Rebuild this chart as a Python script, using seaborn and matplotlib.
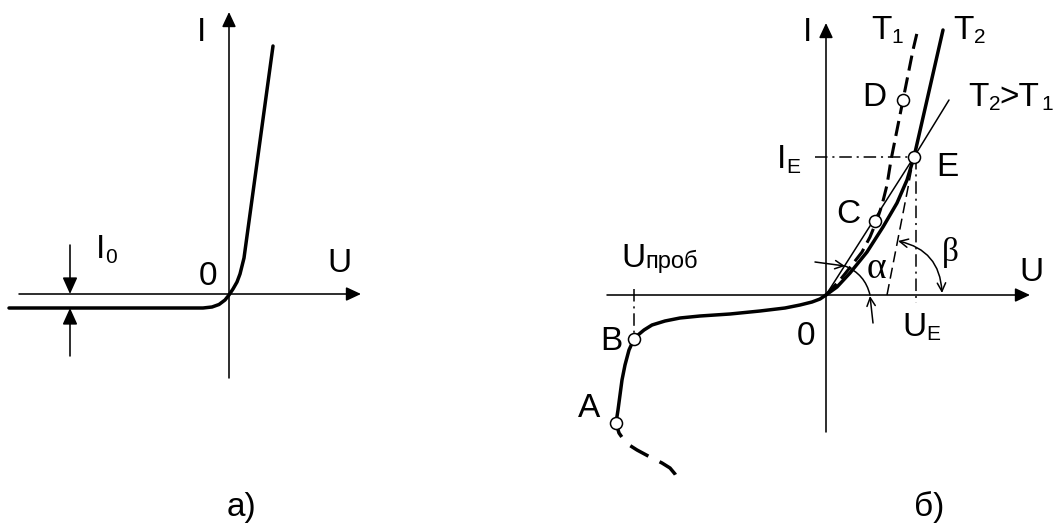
import matplotlib
matplotlib.use("Agg")
import matplotlib.pyplot as plt
import seaborn as sns
from matplotlib.patches import FancyArrowPatch

sns.set_theme(style="white")
plt.rcParams['font.family'] = ['Liberation Sans', 'DejaVu Sans']
plt.rcParams['lines.scale_dashes'] = False

W, H, DPI = 1057, 528, 100

# ---------------- panel а): ideal diode characteristic ----------------
a_u = [9, 203, 212, 219, 225, 229, 233, 237, 240, 242, 244, 273]
a_i = [308, 308, 307, 304.5, 300, 295, 289, 282, 274, 266, 258, 46]

# ---------------- panel б): real characteristic ----------------
rev_u = [826, 820, 812, 800, 785, 760, 730, 700, 680, 665, 652, 644, 638, 634]
rev_i = [295, 299, 302, 305, 308, 311, 314, 316, 318, 321, 325, 330, 335, 339]
brk_u = [634, 629, 625, 622, 620, 618, 616]
brk_i = [339, 350, 365, 380, 395, 410, 423]
tail_u = [616, 619, 626, 637, 650, 662, 670, 675, 678]
tail_i = [423, 433, 443, 450, 457, 463, 468, 474, 480]
t2_u = [826, 837, 850, 867, 883, 897, 907, 914, 943]
t2_i = [295, 287, 273, 252, 227, 203, 180, 157, 30]
t1_u = [826, 840, 852, 862, 870, 877, 882, 887, 891, 895, 899, 903, 908, 913, 917]
t1_i = [295, 280, 265, 252, 237, 220, 205, 185, 160, 140, 120, 100, 75, 50, 33]
chord_u = [826, 914, 949]
chord_i = [295, 157, 100]
tangent_u = [887, 914]
tangent_i = [295, 157]

pt_names = ["A", "B", "C", "D", "E"]
pt_u = [616, 634, 875, 903, 914]
pt_i = [423, 339, 221, 100, 157]

fig = plt.figure(figsize=(W / DPI, H / DPI), dpi=DPI)
ax = fig.add_axes([0, 0, 1, 1])

AX_LW = 1.15
THICK = 2.5
THIN = 1.1


def line(xs, ys, lw, ls='-', z=3):
    sns.lineplot(x=xs, y=ys, sort=False, estimator=None, color='black',
                 lw=lw, linestyle=ls, ax=ax, zorder=z)


def arrow(p0, p1, style='-|>', hl=9, hw=4.2, lw=AX_LW, conn=None):
    kw = dict(arrowstyle=f"{style},head_length={hl},head_width={hw}",
              mutation_scale=1, lw=lw, color='black', shrinkA=0, shrinkB=0,
              zorder=4)
    if conn:
        kw['connectionstyle'] = conn
    ax.add_patch(FancyArrowPatch(p0, p1, **kw))


# coordinate axes of both panels
arrow((19, 294), (361, 294))
arrow((229, 378), (229, 12))
arrow((607, 295), (1030, 295))
arrow((826, 432), (826, 23))

# panel а) curve and I0 markers
line(a_u, a_i, THICK)
arrow((70, 245), (70, 294), hl=10, hw=4.5)
arrow((70, 356), (70, 308), hl=10, hw=4.5)

# panel б) curves
line(rev_u, rev_i, THICK)
line(brk_u, brk_i, THICK)
line(tail_u, tail_i, THICK, ls=(4, (15, 9)))
line(t2_u, t2_i, THICK)
line(t1_u, t1_i, 2.2, ls=(0, (11, 5)))
line(chord_u, chord_i, THIN)
line(tangent_u, tangent_i, THIN, ls=(0, (8, 4)))

# construction lines (dash-dot)
dd = (0, (9, 3.5, 1.5, 3.5))
line([815, 914], [157, 157], THIN, ls=dd, z=2)
line([916, 916], [157, 303], THIN, ls=dd, z=2)
line([634, 634], [289, 333], THIN, ls=dd, z=2)

# angle marks
ax.add_patch(FancyArrowPatch((845, 266), (870, 295), arrowstyle='-',
                             connectionstyle='arc3,rad=-0.26', lw=THIN,
                             color='black', shrinkA=0, shrinkB=0))
arrow((815, 262), (845, 266), style='->', hl=6, hw=3, lw=THIN)
arrow((873, 323), (870, 296), style='->', hl=6, hw=3, lw=THIN)
arrow((898, 241), (942, 293), style='<->', hl=6, hw=3, lw=THIN,
      conn='arc3,rad=-0.38')

# characteristic points
sns.scatterplot(x=pt_u, y=pt_i, s=75, color='white', edgecolor='black',
                linewidth=1.1, zorder=6, ax=ax)

# ---------------- labels ----------------
FS = 24
SUB = 15
renderer = fig.canvas.get_renderer()
inv = ax.transData.inverted()


def text(x, y, s, ha='center', size=FS, family=None):
    kw = dict(fontsize=size, ha=ha, va='baseline', color='black')
    if family:
        kw['family'] = family
    return ax.text(x, y, s, **kw)


def compound(x, y, parts, drop=4, gap=-1, subsize=SUB):
    cx = x
    for s, is_sub in parts:
        t = text(cx, y + (drop if is_sub else 0), s, ha='left',
                 size=subsize if is_sub else FS)
        bb = t.get_window_extent(renderer)
        cx = inv.transform((bb.x1, bb.y0))[0] + gap


# panel а)
text(201, 41, "I")
text(208, 285, "0")
text(339, 272, "U")
compound(96, 258, [("I", False), ("0", True)], drop=5)
text(242, 516, "а)")

# panel б)
text(807, 41, "I")
compound(871, 39, [("T", False), ("1", True)])
compound(953, 39, [("T", False), ("2", True)])
compound(968, 106, [("T", False), ("2", True), (">T", False), ("1", True)])
text(874, 106, "D")
compound(777, 168, [("I", False), ("E", True)], drop=5)
text(947, 176, "E")
text(848, 223, "C")
text(876, 278, "α", family=['Liberation Serif'], size=27)
text(950, 261, "β", family=['Liberation Serif'], size=24)
text(1031, 281, "U")
compound(902, 336, [("U", False), ("E", True)], drop=4)
text(806, 345, "0")
text(611, 350, "B")
text(589, 417, "A")
compound(621, 267, [("U", False), ("проб", True)], drop=1, subsize=17)
text(929, 516, "б)")

ax.set_xlim(0, W)
ax.set_ylim(H, 0)
ax.axis('off')
fig.savefig("out.png", dpi=DPI, facecolor='white')
